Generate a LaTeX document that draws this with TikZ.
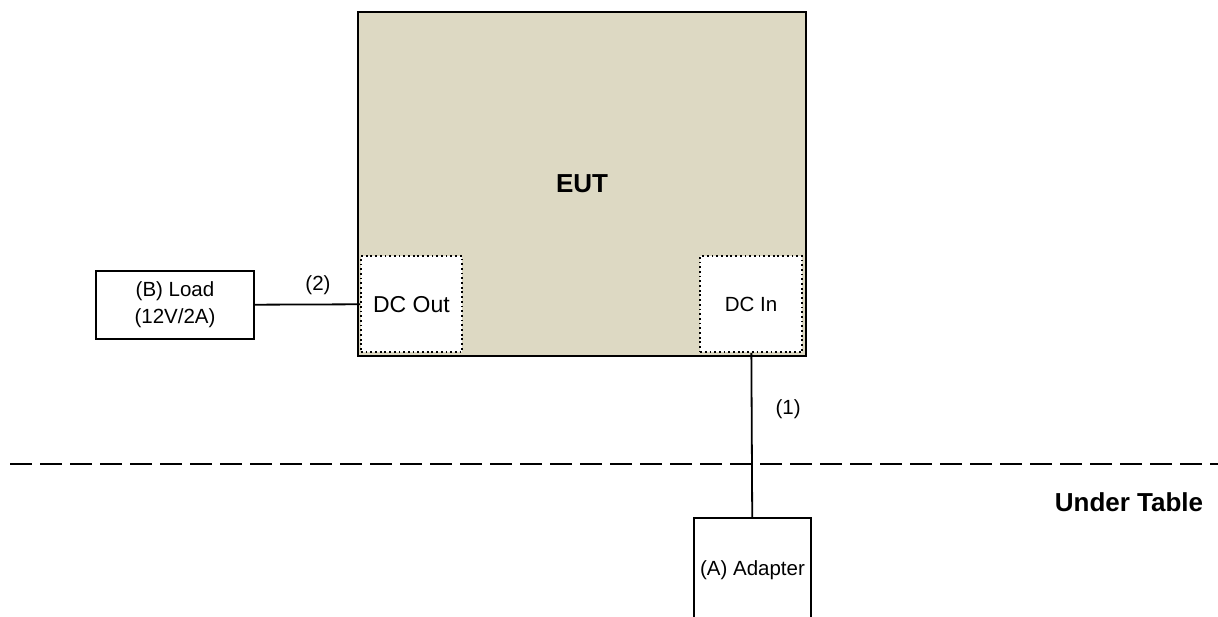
\documentclass[tikz,border=0pt]{standalone}
\usepackage{fontspec}
\setmainfont{Liberation Sans}
\usetikzlibrary{positioning}

\definecolor{eutfill}{RGB}{221,217,195}

\tikzset{
  eutbox/.style={draw, line width=1.8pt, fill=eutfill, inner sep=0pt,
    minimum width=448pt, minimum height=344pt, font=\fontsize{26}{30}\selectfont\bfseries},
  portbox/.style={draw, line width=1.8pt, dash pattern=on 1.8pt off 2.9pt, fill=white,
    inner sep=0pt, minimum width=101pt, minimum height=96pt},
  unitbox/.style={draw, line width=1.8pt, fill=white, inner sep=0pt, align=center,
    font=\fontsize{20.5}{27}\selectfont},
  cable/.style={line width=1.8pt},
  lbl/.style={inner sep=0pt, font=\fontsize{20.5}{24}\selectfont},
  tableline/.style={line width=2pt, dash pattern=on 22pt off 8pt},
}

\begin{document}
\begin{tikzpicture}[x=1pt,y=1pt,yscale=-1,xscale=1]
\useasboundingbox (0,0) rectangle (1218,617);
\clip (0,0) rectangle (1218,617);

%Shape: EUT
\node[eutbox] (eut) at (582,184) {EUT};
%Shape: ports
\node[portbox, anchor=south west, font=\fontsize{23}{26}\selectfont] (dcout) at (360,353) {DC Out};
\node[portbox, anchor=south east, minimum width=102pt, font=\fontsize{20.5}{24}\selectfont] (dcin) at (803,353) {DC In};

%Shape: units
\node[unitbox, minimum width=158pt, minimum height=68pt] (load) at (175,305) {(B) Load\\(12V/2A)};
\node[unitbox, minimum width=117pt, minimum height=104pt] (adapter) at (752.5,570) {(A) Adapter};

%Straight Lines: table edge
\coordinate (tl) at (10,464);
\coordinate (tr) at (1218,464);
\draw[tableline] (tl) -- (tr);

%Straight Lines: cables
\draw[cable] (load) -- node[lbl, pos=0.6, above=9pt] {(2)} (dcout);
\draw[cable] (dcin) -- node[lbl, pos=0.34, right=23pt] {(1)} (adapter);

% Text Node
\node[lbl, font=\fontsize{26}{30}\selectfont\bfseries] (undertable) at (1129,502) {Under Table};

\end{tikzpicture}
\end{document}
